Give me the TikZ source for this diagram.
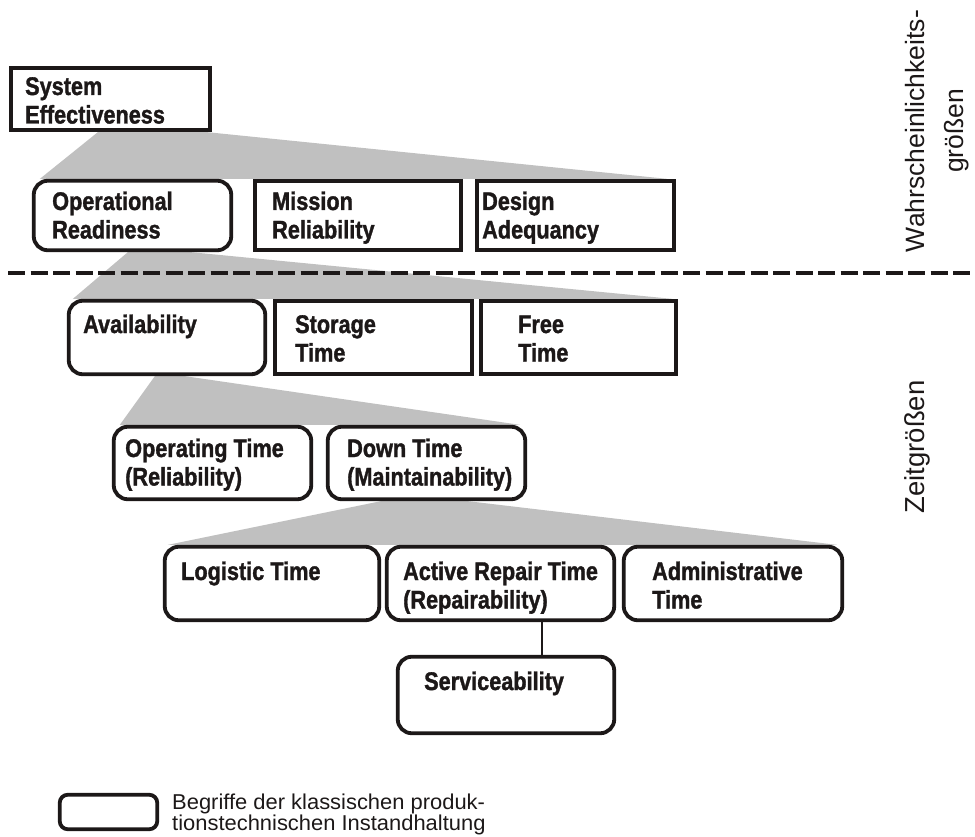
\documentclass[tikz,border=0pt]{standalone}
\usepackage{graphicx}
\usepackage{fontspec}
\setmainfont{Liberation Sans}[BoldFeatures={FakeBold=1.5}]
\usetikzlibrary{backgrounds}
\definecolor{ink}{RGB}{28,24,24}
\definecolor{wedgegray}{RGB}{192,192,192}

% bold, condensed box caption; first baseline is the node's base
\newcommand{\boxcap}[1]{\scalebox{0.85}[1]{\fontsize{25.5}{28.5}\selectfont\bfseries
  \begin{tabular}[t]{@{}l@{}}#1\end{tabular}}}

\begin{document}
\begin{tikzpicture}[x=1pt,y=-1pt,
  frame/.style={draw=ink, line width=3.8pt, fill=white, inner sep=0pt},
  sharpbox/.style={frame},
  roundbox/.style={frame, rounded corners=14pt},
  boxlabel/.style={inner sep=0pt, anchor=base west, text=ink},
  wedge/.style={fill=wedgegray, draw=none},
  divider/.style={draw=ink, line width=4pt, dash pattern=on 17pt off 5.5pt},
  link/.style={draw=ink, line width=2pt},
  side/.style={inner sep=0pt, rotate=90, anchor=base, text=ink}]

\useasboundingbox (0,0) rectangle (975,837);

% ---- level 1
\node[sharpbox, minimum width=199.5, minimum height=62.5] (se) at (110.5,99) {};
% ---- level 2
\node[roundbox, minimum width=197.5, minimum height=69.5] (opr) at (132.5,215.5) {};
\node[sharpbox, minimum width=206.5, minimum height=69.5] (mr)  at (358,215.5) {};
\node[sharpbox, minimum width=197.5, minimum height=69.5] (da)  at (575.5,215.5) {};
% ---- level 3
\node[roundbox, minimum width=196.5, minimum height=73.5] (av) at (167,337.5) {};
\node[sharpbox, minimum width=197.5, minimum height=73.5] (st) at (373.5,337.5) {};
\node[sharpbox, minimum width=195.5, minimum height=73.5] (fr) at (578.5,337.5) {};
% ---- level 4
\node[roundbox, minimum width=197.5, minimum height=72.5] (op) at (212.5,463) {};
\node[roundbox, minimum width=197.5, minimum height=72.5] (dt) at (426.5,463) {};
% ---- level 5
\node[roundbox, minimum width=214.5, minimum height=73.5] (lg) at (272,583.5) {};
\node[roundbox, minimum width=227.5, minimum height=73.5] (ar) at (500.5,583.5) {};
\node[roundbox, minimum width=218.5, minimum height=73.5] (ad) at (733,583.5) {};
% ---- level 6
\node[roundbox, minimum width=216.5, minimum height=76.5] (sv) at (506,695) {};

% ---- grey fans from each parent to its children
\begin{scope}[on background layer]
  \fill[wedge] ([xshift=89pt]se.south west) -- ([xshift=-5pt]se.south east)
    -- ([xshift=-9pt]da.north east) -- ([xshift=8pt]opr.north west) -- cycle;
  \fill[wedge] ([xshift=96pt]opr.south west) -- ([xshift=159pt]opr.south west)
    -- ([xshift=-6pt]fr.north east) -- ([xshift=6pt]av.north west) -- cycle;
  \fill[wedge] ([xshift=88pt]av.south west) -- ([xshift=118pt]av.south west)
    -- ([xshift=-7pt]dt.north east) -- ([xshift=8pt]op.north west) -- cycle;
  \fill[wedge] ([xshift=55pt]dt.south west) -- ([xshift=142pt]dt.south west)
    -- ([xshift=-7pt]ad.north east) -- ([xshift=5pt]lg.north west) -- cycle;
\end{scope}

% ---- divider between probability and time quantities
\coordinate (divL) at (8,273);
\coordinate (divR) at (975,273);
\draw[divider] (divL) -- (divR);

% ---- link Active Repair Time -> Serviceability
\coordinate (tap) at (542,0);
\draw[link] (ar.south -| tap) -- (sv.north -| tap);

% ---- captions
\node[boxlabel] (se-t)  at (25,95)   {\boxcap{System\\Effectiveness}};
\node[boxlabel] (opr-t) at (52,210)  {\boxcap{Operational\\Readiness}};
\node[boxlabel] (mr-t)  at (272,210) {\boxcap{Mission\\Reliability}};
\node[boxlabel] (da-t)  at (482,210) {\boxcap{Design\\Adequancy}};
\node[boxlabel] (av-t)  at (83,333)  {\boxcap{Availability}};
\node[boxlabel] (st-t)  at (295,333) {\boxcap{Storage\\Time}};
\node[boxlabel] (fr-t)  at (518,333) {\boxcap{Free\\Time}};
\node[boxlabel] (op-t)  at (125,457) {\boxcap{Operating Time\\(Reliability)}};
\node[boxlabel] (dt-t)  at (347,457) {\boxcap{Down Time\\(Maintainability)}};
\node[boxlabel] (lg-t)  at (181,580) {\boxcap{Logistic Time}};
\node[boxlabel] (ar-t)  at (403,580) {\boxcap{Active Repair Time\\(Repairability)}};
\node[boxlabel] (ad-t)  at (652,580) {\boxcap{Administrative\\Time}};
\node[boxlabel] (sv-t)  at (424,690) {\boxcap{Serviceability}};

% ---- side headings
\node[side] (wk) at (924,131) {\fontsize{26.5}{39}\selectfont
  \begin{tabular}[t]{@{}c@{}}Wahrscheinlichkeits-\\größen\end{tabular}};
\node[side] (zg) at (924,447) {\fontsize{27.5}{32}\selectfont Zeitgrößen};

% ---- legend
\node[frame, rounded corners=8pt, minimum width=97.5, minimum height=34.5] (key) at (108.5,812) {};
\node[boxlabel] (key-t) at (172,809) {\scalebox{1.02}[1]{\fontsize{21.5}{20.5}\selectfont
  \begin{tabular}[t]{@{}l@{}}Begriffe der klassischen produk-\\tionstechnischen Instandhaltung\end{tabular}}};
\end{tikzpicture}
\end{document}
